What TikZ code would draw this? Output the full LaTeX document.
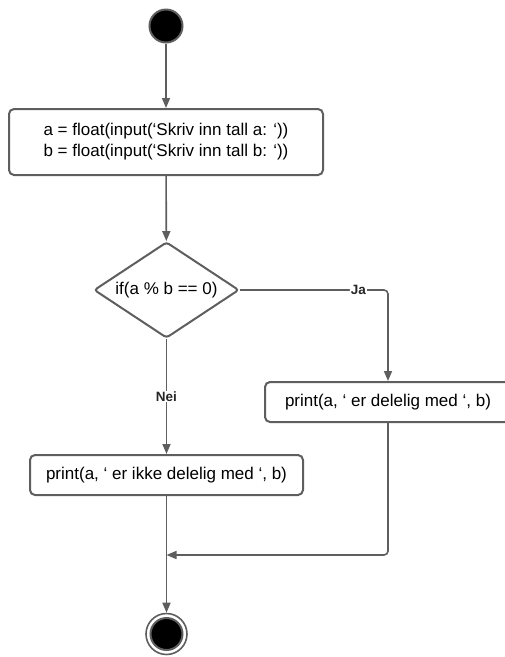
\documentclass[tikz,border=0pt]{standalone}
\usepackage{fontspec}
\setmainfont{Liberation Sans}
\usepackage{xcolor}
\usetikzlibrary{shapes.geometric,arrows.meta}
\definecolor{linegray}{RGB}{94,94,94}
\tikzstyle{startstate}=[
    circle,
    draw=linegray,
    line width=2pt,
    fill=black,
    minimum size=33pt,
    inner sep=0pt]
\tikzstyle{endring}=[
    circle,
    draw=linegray,
    line width=1.6pt,
    fill=white,
    minimum size=41pt,
    inner sep=0pt]
\tikzstyle{endfill}=[
    circle,
    draw=linegray,
    line width=2pt,
    fill=black,
    minimum size=32pt,
    inner sep=0pt]
\tikzstyle{action}=[
    rectangle,
    rounded corners=5pt,
    draw=linegray,
    line width=2pt,
    fill=white,
    text=black,
    align=center,
    minimum height=40pt,
    font=\fontsize{17}{21}\selectfont]
\tikzstyle{decision}=[
    diamond,
    aspect=1.5,
    rounded corners=3pt,
    draw=linegray,
    line width=2pt,
    fill=white,
    text=black,
    minimum width=145pt,
    minimum height=96pt,
    inner sep=0pt,
    font=\fontsize{17}{21}\selectfont]
\tikzstyle{flow}=[
    draw=linegray,
    line width=1.6pt,
    -{Triangle[length=10pt,width=8pt]}]
\tikzstyle{guard}=[
    fill=white,
    text=black!85,
    inner sep=1pt,
    font=\bfseries\fontsize{13.5}{16}\selectfont]

\begin{document}
\begin{tikzpicture}[x=1pt,y=-1pt]
    \useasboundingbox (0,0) rectangle (505,657);

    \node[startstate] (start) at (166,26) {};

    \node[action, minimum width=314pt, minimum height=66pt] (input) at (166,142)
      {a = float(input(‘Skriv inn tall a: ‘))\\b = float(input(‘Skriv inn tall b: ‘))};

    \node[decision] (test) at (166.5,290) {if(a \% b == 0)};

    \node[action, minimum width=246pt] (yes) at (388,402) {print(a, ‘ er delelig med ‘, b)};
    \node[action, minimum width=273pt] (no) at (166.5,475) {print(a, ‘ er ikke delelig med ‘, b)};

    \coordinate (merge) at (166.5,555);

    \node[endring] (stop) at (166.5,634) {};
    \node[endfill] (stopdot) at (stop) {};

    \draw[flow] (start) -- (input);
    \draw[flow] (input) -- (test);
    \draw[flow, rounded corners=4pt] (test.east) -| node[guard, pos=0.4] {Ja} (yes.north);
    \draw[flow] (test.south) -- node[guard] {Nei} (no.north);
    \draw[flow, rounded corners=4pt] (yes.south) |- (merge);
    \draw[flow] (no.south) -- (stop.north);
  \end{tikzpicture}
\end{document}
